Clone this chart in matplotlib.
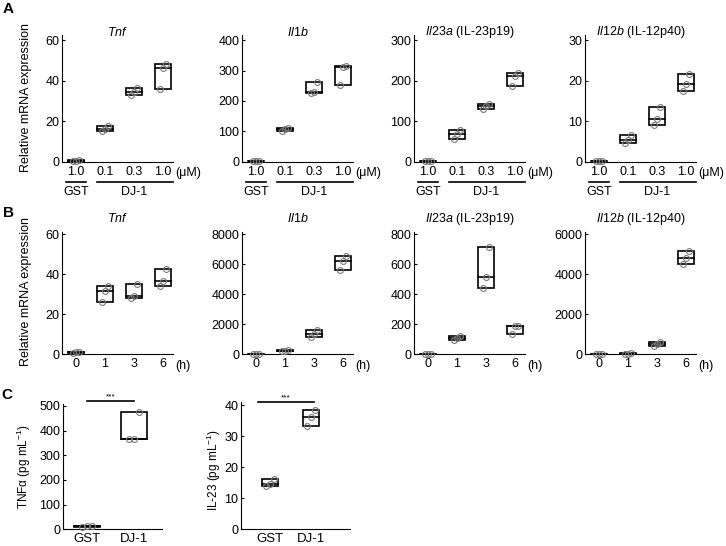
import numpy as np
import matplotlib
matplotlib.use('Agg')
import matplotlib.pyplot as plt
from matplotlib.patches import Rectangle
from matplotlib.transforms import blended_transform_factory

plt.rcParams['font.family'] = 'Liberation Sans'
plt.rcParams['mathtext.fontset'] = 'custom'
plt.rcParams['mathtext.rm'] = 'Liberation Sans'
plt.rcParams['mathtext.it'] = 'Liberation Sans:italic'
plt.rcParams['mathtext.bf'] = 'Liberation Sans:bold'

# ---- data (3 replicates per group) ----
a_labels = ['1.0', '0.1', '0.3', '1.0']
b_labels = ['0', '1', '3', '6']
c_labels = ['GST', 'DJ-1']

a_titles = [r'$\mathit{Tnf}$', r'$\mathit{Il1b}$', r'$\mathit{Il23a}$ (IL-23p19)', r'$\mathit{Il12b}$ (IL-12p40)']
b_titles = a_titles

a_tnf = [[0.2, 0.4, 0.6], [15.2, 16.0, 17.4], [32.9, 34.3, 36.3], [35.7, 46.4, 48.2]]
a_il1b = [[0.5, 1.0, 1.5], [101, 106, 110], [225, 229, 262], [252, 311, 316]]
a_il23a = [[0.3, 0.6, 1.0], [57, 68, 77], [131, 137, 142], [187, 211, 220]]
a_il12b = [[0.03, 0.06, 0.1], [4.5, 5.4, 6.5], [9.0, 10.6, 13.6], [17.4, 19.2, 21.6]]

b_tnf = [[0.8, 1.1, 1.4], [26.3, 31.5, 34.3], [28.2, 29.3, 35.0], [34.2, 36.8, 42.5]]
b_il1b = [[10, 20, 30], [190, 230, 260], [1150, 1380, 1650], [5650, 6250, 6530]]
b_il23a = [[1, 2, 3], [96, 108, 119], [440, 516, 718], [136, 187, 191]]
b_il12b = [[3, 5, 8], [25, 35, 45], [400, 497, 640], [4520, 4800, 5150]]

c_tnfa = [[10, 12, 14], [365, 368, 476]]
c_il23 = [[13.9, 14.6, 16.2], [33.3, 36.2, 38.3]]

a_yticks = [[0, 20, 40, 60], [0, 100, 200, 300, 400], [0, 100, 200, 300], [0, 10, 20, 30]]
b_yticks = [[0, 20, 40, 60], [0, 2000, 4000, 6000, 8000], [0, 200, 400, 600, 800], [0, 2000, 4000, 6000]]

W, H = 726, 546
fig = plt.figure(figsize=(W / 100, H / 100), dpi=100)


def add_ax(left, top, width, height):
    return fig.add_axes([left / W, 1 - (top + height) / H, width / W, height / H])


def ftext(x, y, s, **kw):
    fig.text(x / W, 1 - y / H, s, **kw)


def draw_groups(ax, groups, width):
    offs = [-0.1, 0.0, 0.1]
    for i, vals in enumerate(groups):
        p = i + 1
        v = sorted(vals)
        ax.add_patch(Rectangle((p - width / 2, v[0]), width, v[-1] - v[0],
                               facecolor='white', edgecolor='black', lw=1.2, zorder=2))
        ax.plot([p - width / 2, p + width / 2], [v[1], v[1]], color='black', lw=1.2, zorder=2)
        ax.plot([p + o for o in offs], vals, 'o', mfc='none', mec='#7a7a7a', ms=4.2,
                mew=0.8, zorder=3, clip_on=False)


def style(ax, yticks, top, xlim, xlabels):
    ax.spines[['top', 'right']].set_visible(False)
    ax.set_ylim(0, top)
    ax.set_yticks(yticks)
    ax.set_xlim(*xlim)
    ax.set_xticks(range(1, len(xlabels) + 1), xlabels)
    ax.tick_params(axis='y', direction='in', length=2, labelsize=9, pad=2)
    ax.tick_params(axis='x', length=0, labelsize=9, pad=3)


lefts = [62, 242, 414, 585]
xl4 = (0.517, 4.345)

# ---- panel A ----
for k, (data, yt) in enumerate(zip([a_tnf, a_il1b, a_il23a, a_il12b], a_yticks)):
    ax = add_ax(lefts[k], 35, 111, 126.5)
    draw_groups(ax, data, 0.55)
    style(ax, yt, yt[-1] * 1.045, xl4, a_labels)
    ftext(lefts[k] + 55.5, 32, a_titles[k], ha='center', va='center', fontsize=9)
    ftext(lefts[k] + 113, 173, '(\u03bcM)', ha='left', va='center', fontsize=9)
    tr = blended_transform_factory(ax.transData, fig.transFigure)
    yl = 1 - 182 / H
    ax.plot([0.67, 1.33], [yl, yl], color='black', lw=1.2, transform=tr, clip_on=False)
    ax.plot([1.72, 4.35], [yl, yl], color='black', lw=1.2, transform=tr, clip_on=False)
    ax.text(1, 1 - 192 / H, 'GST', transform=tr, ha='center', va='center', fontsize=9)
    ax.text(3, 1 - 192 / H, 'DJ-1', transform=tr, ha='center', va='center', fontsize=9)

ftext(26, 98, 'Relative mRNA expression', rotation=90, ha='center', va='center', fontsize=9)
ftext(8, 9, 'A', ha='center', va='center', fontsize=11, fontweight='bold')

# ---- panel B ----
for k, (data, yt) in enumerate(zip([b_tnf, b_il1b, b_il23a, b_il12b], b_yticks)):
    ax = add_ax(lefts[k], 231.9, 111, 122.4)
    draw_groups(ax, data, 0.55)
    style(ax, yt, yt[-1] * 1.02, xl4, b_labels)
    ftext(lefts[k] + 55.5, 219, b_titles[k], ha='center', va='center', fontsize=9)
    ftext(lefts[k] + 113, 366, '(h)', ha='left', va='center', fontsize=9)

ftext(26, 292, 'Relative mRNA expression', rotation=90, ha='center', va='center', fontsize=9)
ftext(8, 213, 'B', ha='center', va='center', fontsize=11, fontweight='bold')

# ---- panel C ----
ax = add_ax(63, 403.5, 99, 125.8)
draw_groups(ax, c_tnfa, 0.55)
style(ax, [0, 100, 200, 300, 400, 500], 510, (0.489, 2.596), c_labels)
ax.tick_params(axis='x', labelsize=9.5)
tr = blended_transform_factory(ax.transData, fig.transFigure)
ax.plot([1, 2], [1 - 401 / H] * 2, color='black', lw=1.2, transform=tr, clip_on=False)
ax.text(1.5, 1 - 397 / H, '***', transform=tr, ha='center', va='center', fontsize=6)
ftext(24, 467, 'TNF\u03b1 (pg mL$^{-1}$)', rotation=90, ha='center', va='center', fontsize=8.5)

ax = add_ax(241, 402, 109, 127.3)
draw_groups(ax, c_il23, 0.41)
style(ax, [0, 10, 20, 30, 40], 41, (0.29, 2.95), c_labels)
ax.tick_params(axis='x', labelsize=9.5)
tr = blended_transform_factory(ax.transData, fig.transFigure)
ax.plot([0.7, 2.07], [1 - 402 / H] * 2, color='black', lw=1.2, transform=tr, clip_on=False)
ax.text(1.38, 1 - 398 / H, '***', transform=tr, ha='center', va='center', fontsize=6)
ftext(214, 470, 'IL-23 (pg mL$^{-1}$)', rotation=90, ha='center', va='center', fontsize=8.5)

ftext(7, 395, 'C', ha='center', va='center', fontsize=11, fontweight='bold')

fig.savefig('out.png', dpi=100)
